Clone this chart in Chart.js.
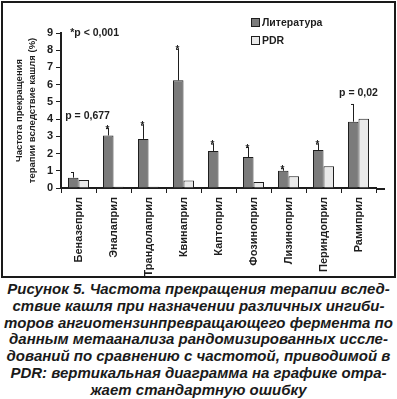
<!DOCTYPE html>
<html>
<head>
<meta charset="utf-8">
<script src="https://cdn.jsdelivr.net/npm/chart.js@4.4.1/dist/chart.umd.min.js"></script>
<style>
  html, body { margin: 0; padding: 0; background: #fff; }
  body { width: 397px; height: 399px; position: relative; overflow: hidden; }
  .box {
    position: absolute; left: 1px; top: 1px;
    width: 391px; height: 273px;
    border: 2px solid #1a1a1a;
  }
  .caption {
    position: absolute; left: 0; top: 281px; width: 397px;
    text-align: center;
    font: italic bold 15px "Liberation Sans", Arial, sans-serif;
    line-height: 16.8px;
    color: #1a1a1a;
    white-space: nowrap;
  }
</style>
</head>
<body>
<div class="box"><canvas id="chart" width="391" height="273"></canvas></div>
<div class="caption">
Рисунок 5. Частота прекращения терапии вслед-<br>
ствие кашля при назначении различных ингиби-<br>
торов ангиотензинпревращающего фермента по<br>
данным метаанализа рандомизированных иссле-<br>
дований по сравнению с частотой, приводимой в<br>
PDR: вертикальная диаграмма на графике отра-<br>
жает стандартную ошибку
</div>
<script>
// DATA
const drugs = ["Беназеприл", "Эналаприл", "Трандолаприл", "Квинаприл", "Каптоприл",
  "Фозиноприл", "Лизиноприл", "Периндоприл", "Рамиприл"];
const literature = [0.6, 3.05, 2.85, 6.25, 2.15, 1.8, 1.0, 2.2, 3.85];
const literatureErr = [0.3, 0.4, 0.8, 1.8, 0.4, 0.55, 0.12, 0.35, 1.0];
const pdr = [0.47, 0.07, 0.07, 0.43, 0, 0.35, 0.68, 1.27, 4.02];
const starred = [false, true, true, true, true, true, true, true, false];
const yTicks = [0, 1, 2, 3, 4, 5, 6, 7, 8, 9];
const notes = [
  { text: "*p < 0,001", cat: 0, val: 9, align: "left" },
  { text: "p = 0,677", cat: 0, val: 4.15, align: "left" },
  { text: "p = 0,02", cat: 8, val: 5.5, align: "center" }
];

const ink = "#1e1e1e";
const family = "'Liberation Sans', Arial, sans-serif";
const boldFont = (size) => "bold " + size + "px " + family;

// error bars, asterisks, notes, legend, axis tail
const extras = {
  id: "extras",
  afterDatasetsDraw(chart) {
    const ctx = chart.ctx;
    const y = chart.scales.y;
    const x = chart.scales.x;
    const meta = chart.getDatasetMeta(0);
    ctx.save();
    ctx.strokeStyle = ink;
    ctx.fillStyle = ink;
    ctx.lineWidth = 1;

    meta.data.forEach((bar, i) => {
      const top = y.getPixelForValue(literature[i] + literatureErr[i]);
      const cx = Math.round(bar.x) + 0.5;
      ctx.beginPath();
      ctx.moveTo(cx, bar.y);
      ctx.lineTo(cx, top);
      ctx.moveTo(cx - 2.5, top);
      ctx.lineTo(cx + 0.5, top);
      ctx.stroke();
      if (starred[i]) {
        ctx.font = boldFont(10);
        ctx.textAlign = "center";
        ctx.textBaseline = "alphabetic";
        ctx.fillText("*", cx - 1, top + 4);
      }
    });

    ctx.font = boldFont(10.5);
    ctx.textBaseline = "middle";
    notes.forEach((n) => {
      ctx.textAlign = n.align;
      let px = x.getPixelForValue(n.cat);
      if (n.align === "left") px = meta.data[n.cat].x - 8;
      if (n.text[0] === "*") px += 5;
      ctx.fillText(n.text, px, y.getPixelForValue(n.val));
    });

    // legend
    ctx.font = boldFont(10.5);
    ctx.textAlign = "left";
    chart.data.datasets.forEach((ds, i) => {
      const ly = 20 + i * 18;
      ctx.fillStyle = ds.backgroundColor;
      ctx.fillRect(248.5, ly - 4.5, 8, 8);
      ctx.strokeRect(248.5, ly - 4.5, 8, 8);
      ctx.fillStyle = ink;
      ctx.fillText(ds.label, 259, ly);
    });

    // x axis runs a little past the last category
    ctx.lineWidth = 2;
    ctx.beginPath();
    ctx.moveTo(chart.chartArea.right, x.top + 1);
    ctx.lineTo(chart.chartArea.right + 9, x.top + 1);
    ctx.stroke();
    ctx.restore();
  }
};

new Chart(document.getElementById("chart"), {
  type: "bar",
  data: {
    labels: drugs,
    datasets: [
      {
        label: "Литература",
        data: literature,
        backgroundColor: "#7b7b7b",
        borderColor: ink,
        borderWidth: 1,
        categoryPercentage: 0.6,
        barPercentage: 1.0
      },
      {
        label: "PDR",
        data: pdr,
        backgroundColor: "#e9e9e9",
        borderColor: ink,
        borderWidth: 1,
        categoryPercentage: 0.6,
        barPercentage: 1.0
      }
    ]
  },
  options: {
    responsive: false,
    animation: false,
    layout: { padding: { top: 30, right: 18, left: 0, bottom: 0 } },
    plugins: { legend: { display: false }, tooltip: { enabled: false } },
    scales: {
      x: {
        afterFit: (s) => { s.height = 88; },
        grid: { drawOnChartArea: false, color: ink, tickLength: 5, offset: true },
        border: { color: ink, width: 2 },
        ticks: {
          color: ink,
          font: { family: family, size: 11, weight: "bold" },
          maxRotation: 90,
          minRotation: 90,
          padding: 4,
          autoSkip: false
        }
      },
      y: {
        min: 0,
        max: 9,
        afterFit: (s) => { s.width = 58; },
        afterBuildTicks: (s) => { s.ticks = yTicks.map((v) => ({ value: v })); },
        grid: { drawOnChartArea: false, color: ink, tickLength: 5 },
        border: { color: ink, width: 2 },
        ticks: {
          color: ink,
          padding: 3,
          font: { family: family, size: 11, weight: "bold" }
        },
        title: {
          display: true,
          text: ["Частота прекращения", "терапии вследствие кашля (%)"],
          color: ink,
          padding: { top: 9, bottom: 0 },
          font: { family: family, size: 9.5, weight: "bold", lineHeight: 1.45 }
        }
      }
    }
  },
  plugins: [extras]
});
</script>
</body>
</html>
